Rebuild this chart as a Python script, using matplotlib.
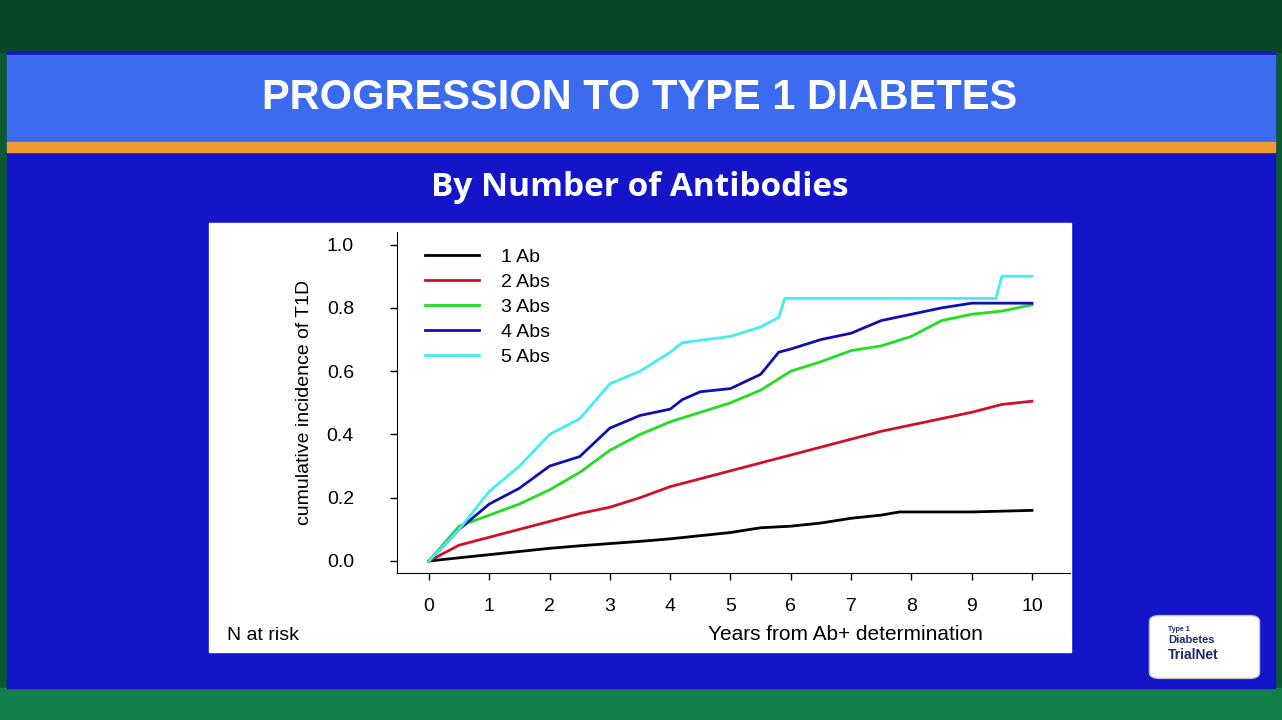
import matplotlib
matplotlib.use("Agg")
import matplotlib.pyplot as plt
from matplotlib.patches import Rectangle, FancyBboxPatch

plt.rcParams["font.family"] = ["Liberation Sans", "DejaVu Sans"]

# ---------------------------------------------------------------------------
# Data
# ---------------------------------------------------------------------------
yrs_1 = [0, 0.5, 1, 1.5, 2, 2.5, 3, 3.5, 4, 4.5, 5, 5.5, 6, 6.5, 7, 7.5, 7.8, 9, 10]
inc_1 = [0, 0.01, 0.02, 0.03, 0.04, 0.048, 0.055, 0.062, 0.07, 0.08, 0.09, 0.105, 0.11, 0.12, 0.135, 0.145, 0.155, 0.155, 0.16]

yrs_2 = [0, 0.5, 1, 1.5, 2, 2.5, 3, 3.5, 4, 4.5, 5, 5.5, 6, 6.5, 7, 7.5, 8, 8.5, 9, 9.5, 10]
inc_2 = [0, 0.05, 0.075, 0.1, 0.125, 0.15, 0.17, 0.2, 0.235, 0.26, 0.285, 0.31, 0.335, 0.36, 0.385, 0.41, 0.43, 0.45, 0.47, 0.495, 0.505]

yrs_3 = [0, 0.5, 1, 1.5, 2, 2.5, 3, 3.5, 4, 4.5, 5, 5.5, 6, 6.5, 7, 7.5, 8, 8.5, 9, 9.5, 10]
inc_3 = [0, 0.11, 0.145, 0.18, 0.225, 0.28, 0.35, 0.4, 0.44, 0.47, 0.5, 0.54, 0.6, 0.63, 0.665, 0.68, 0.71, 0.76, 0.78, 0.79, 0.81]

yrs_4 = [0, 0.5, 1, 1.5, 2, 2.5, 3, 3.5, 4, 4.2, 4.5, 5, 5.5, 5.8, 6, 6.5, 7, 7.5, 8, 8.5, 9, 10]
inc_4 = [0, 0.1, 0.18, 0.23, 0.3, 0.33, 0.42, 0.46, 0.48, 0.51, 0.535, 0.545, 0.59, 0.66, 0.67, 0.7, 0.72, 0.76, 0.78, 0.8, 0.815, 0.815]

yrs_5 = [0, 0.5, 1, 1.5, 2, 2.5, 3, 3.5, 4, 4.2, 5, 5.5, 5.8, 5.9, 9.4, 9.5, 10]
inc_5 = [0, 0.1, 0.22, 0.3, 0.4, 0.45, 0.56, 0.6, 0.66, 0.69, 0.71, 0.74, 0.77, 0.83, 0.83, 0.9, 0.9]

series = [
    ("1 Ab", yrs_1, inc_1, "black"),
    ("2 Abs", yrs_2, inc_2, "#d0102a"),
    ("3 Abs", yrs_3, inc_3, "#22dd22"),
    ("4 Abs", yrs_4, inc_4, "#1010b0"),
    ("5 Abs", yrs_5, inc_5, "#44eeee"),
]

W, H = 1282, 720


def box(x0, y0, x1, y1):
    """Pixel box (top-left origin) -> figure fraction rect."""
    return [x0 / W, 1 - y1 / H, (x1 - x0) / W, (y1 - y0) / H]


fig = plt.figure(figsize=(12.82, 7.2), dpi=100)
fig.patch.set_facecolor("#0b5a32")

def rect(x0, y0, x1, y1, color):
    l, b, w, h = box(x0, y0, x1, y1)
    fig.patches.append(Rectangle((l, b), w, h, transform=fig.transFigure,
                                 color=color, zorder=-5))

rect(0, 0, W, 52, "#0a4628")
rect(0, 688, W, H, "#12804a")
rect(7, 52, 1275, 688, "#1414c8")
rect(7, 55, 1275, 142, "#3b6cf0")
rect(7, 142, 1275, 152, "#f09a30")
rect(209, 223, 1071, 652, "white")

fig.text(640 / W, 1 - 98 / H, "PROGRESSION TO TYPE 1 DIABETES", color="white",
         fontsize=30, fontweight="bold", ha="center", va="center")
fig.text(640 / W, 1 - 188 / H, "By Number of Antibodies", color="white",
         fontsize=24, fontweight="bold", ha="center", va="center",
         family=["Open Sans", "DejaVu Sans"])

ax = fig.add_axes(box(397, 232, 1070, 573))
ax.set_zorder(2)
ax.set_facecolor("white")
for name, x, y, c in series:
    ax.plot(x, y, color=c, lw=2, label=name)

ax.set_xlim(-0.53, 10.63)
ax.set_ylim(-0.038, 1.04)
ax.set_xticks(range(0, 11))
ax.set_yticks([0, 0.2, 0.4, 0.6, 0.8, 1.0])
ax.set_yticklabels(["0.0", "0.2", "0.4", "0.6", "0.8", "1.0"])
ax.spines["top"].set_visible(False)
ax.spines["right"].set_visible(False)
ax.tick_params(labelsize=14, length=5, width=1)
ax.tick_params(axis="y", pad=26)
ax.tick_params(axis="x", pad=13)
ax.set_ylabel("cumulative incidence of T1D", fontsize=14, labelpad=10)
ax.legend(loc="upper left", frameon=False, fontsize=14, handlelength=2.8,
          handletextpad=1.1, labelspacing=0.38, borderaxespad=0.0,
          bbox_to_anchor=(0.03, 0.975))

fig.text(227 / W, 1 - 635 / H, "N at risk", fontsize=14, va="center", zorder=3)
fig.text(845 / W, 1 - 635 / H, "Years from Ab+ determination", fontsize=15,
         va="center", ha="center", zorder=3)

# logo
l, b, w, h = box(1152, 617, 1257, 677)
fig.patches.append(FancyBboxPatch((l, b), w, h, transform=fig.transFigure,
                                  boxstyle="round,pad=0.002,rounding_size=0.008",
                                  fc="white", ec="#c0c0c0", zorder=1))
fig.text(1168 / W, 1 - 631 / H, "Type 1", fontsize=5, color="#1a2a6a", fontweight="bold", zorder=3)
fig.text(1168 / W, 1 - 643 / H, "Diabetes", fontsize=8, color="#1a2a6a", fontweight="bold", zorder=3)
fig.text(1168 / W, 1 - 659 / H, "TrialNet", fontsize=10, color="#1a2a6a", fontweight="bold", zorder=3)

fig.savefig("out.png", dpi=100)
